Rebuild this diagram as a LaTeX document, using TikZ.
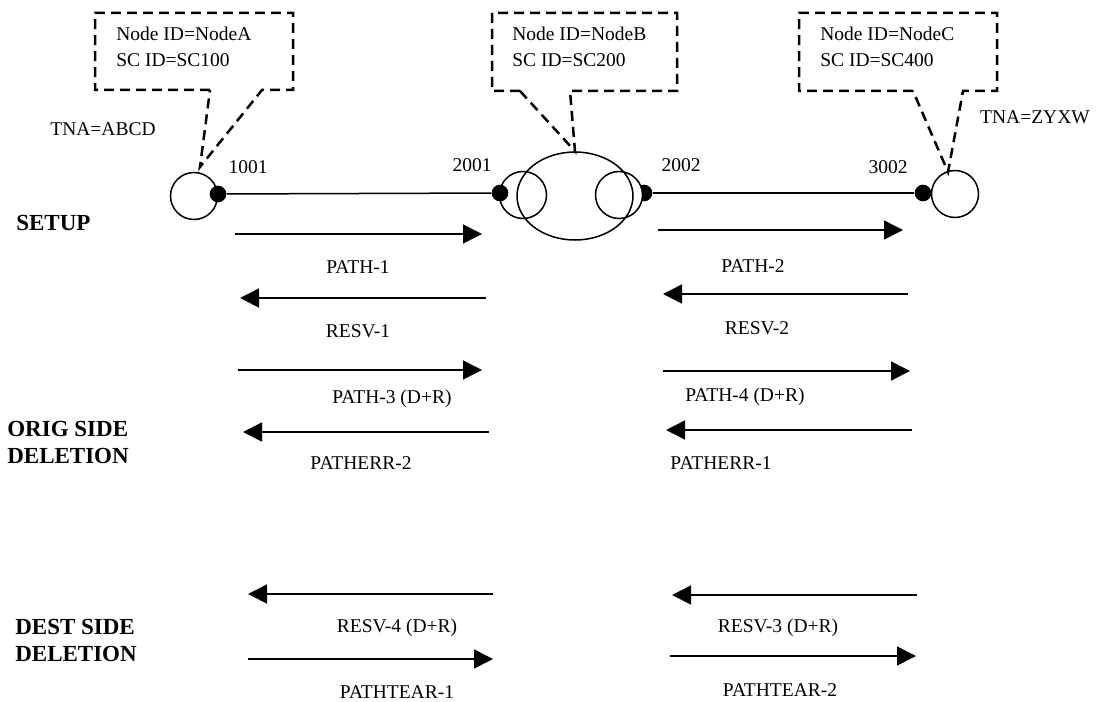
\documentclass[tikz,border=0pt]{standalone}
\usepackage{fontspec}
\setmainfont{Liberation Serif}
\usetikzlibrary{arrows.meta,shapes.geometric}
\tikzset{callout/.style={line width=1.5pt,dash pattern=on 6pt off 3.6pt},
 port/.style={circle,fill,inner sep=0pt,minimum size=10pt},
 ring/.style={circle,draw,line width=0.9pt,inner sep=0pt,minimum size=28.2pt},
 msg/.style={-{Triangle[length=11.4pt,width=11.4pt]},line width=0.9pt},
 every node/.style={font=\fontsize{11.7}{15.6}\selectfont},
 phase/.style={anchor=west,align=left,inner sep=0pt,font=\fontsize{13.8}{16.2}\selectfont\bfseries}}

\begin{document}
\begin{tikzpicture}[x=0.6pt,y=-0.6pt]
\useasboundingbox (0,0) rectangle (1096,702);
% end nodes A and C
\node[ring] (ringA) at (194,196) {};
\node[port] (portA) at (218,194) {};
\node[ring] (ringC) at (955,194) {};
\node[port] (portC) at (923,193) {};
% node B: two rings inside the ellipse
\node[port] (portB2) at (644,193) {};
\node[ring,fill=white] (ringB2) at (619,195) {};
\node[ring] (ringB1) at (523,195) {};
\node[draw,ellipse,line width=0.9pt,inner sep=0pt,minimum width=69.6pt,minimum height=52.8pt] (nodeB) at (575,196) {};
\node[port] (portB1) at (500,193) {};
\draw[line width=0.9pt] (portA) -- (portB1);
\draw[line width=0.9pt] (portB2) -- (portC);
\node (lblA) at (248,167) {1001};
\node (lblB1) at (472,165) {2001};
\node (lblB2) at (681,165) {2002};
\node (lblC) at (888,167) {3002};
\node (tnaA) at (103,129) {TNA=ABCD};
\node (tnaC) at (1035,117) {TNA=ZYXW};

% callouts
\coordinate (tipA) at (200,167);
\coordinate (tipC) at (948,172);
\draw[callout] (210,90) -- (95,90) -- (95,13) -- (293,13) -- (293,90) -- (262,90) -- (tipA) -- cycle;
\draw[callout] (520,91) -- (492,91) -- (492,13) -- (677,13) -- (677,91) -- (570,91) -- (nodeB.north) -- cycle;
\draw[callout] (913,91) -- (799,91) -- (799,13) -- (997,13) -- (997,91) -- (963,91) -- (tipC) -- cycle;
\node[anchor=west,align=left,inner sep=0pt] (idA) at (116,47) {Node ID=NodeA\\SC ID=SC100};
\node[anchor=west,align=left,inner sep=0pt] (idB) at (512,47) {Node ID=NodeB\\SC ID=SC200};
\node[anchor=west,align=left,inner sep=0pt] (idC) at (820,47) {Node ID=NodeC\\SC ID=SC400};

% phases
\node[phase] (setup) at (16,223) {SETUP};
\node[phase] (orig) at (7,442) {ORIG SIDE\\DELETION};
\node[phase] (dest) at (15,640) {DEST SIDE\\DELETION};

% setup messages
\coordinate (p1a) at (235,234); \coordinate (p1b) at (482,234);
\coordinate (r1a) at (486,298); \coordinate (r1b) at (240,298);
\coordinate (p2a) at (658,230); \coordinate (p2b) at (903,230);
\coordinate (r2a) at (908,294); \coordinate (r2b) at (663,294);
\draw[msg] (p1a) -- (p1b);
\draw[msg] (r1a) -- (r1b);
\draw[msg] (p2a) -- (p2b);
\draw[msg] (r2a) -- (r2b);
\node (path1) at (358,267) {PATH-1};
\node (resv1) at (358,331) {RESV-1};
\node (path2) at (753,266) {PATH-2};
\node (resv2) at (757,328) {RESV-2};

% originating side deletion
\coordinate (p3a) at (238,370); \coordinate (p3b) at (482,370);
\coordinate (e2a) at (489,432); \coordinate (e2b) at (243,432);
\coordinate (p4a) at (663,371); \coordinate (p4b) at (910,371);
\coordinate (e1a) at (912,430); \coordinate (e1b) at (666,430);
\draw[msg] (p3a) -- (p3b);
\draw[msg] (e2a) -- (e2b);
\draw[msg] (p4a) -- (p4b);
\draw[msg] (e1a) -- (e1b);
\node (path3) at (392,399) {PATH-3 (D+R)};
\node (perr2) at (361,463) {PATHERR-2};
\node (path4) at (745,397) {PATH-4 (D+R)};
\node (perr1) at (721,463) {PATHERR-1};

% destination side deletion
\coordinate (r4a) at (493,594); \coordinate (r4b) at (248,594);
\coordinate (t1a) at (248,659); \coordinate (t1b) at (493,659);
\coordinate (r3a) at (917,595); \coordinate (r3b) at (672,595);
\coordinate (t2a) at (670,656); \coordinate (t2b) at (916,656);
\draw[msg] (r4a) -- (r4b);
\draw[msg] (t1a) -- (t1b);
\draw[msg] (r3a) -- (r3b);
\draw[msg] (t2a) -- (t2b);
\node (resv4) at (397,628) {RESV-4 (D+R)};
\node (tear1) at (397,692) {PATHTEAR-1};
\node (resv3) at (778,628) {RESV-3 (D+R)};
\node (tear2) at (780,690) {PATHTEAR-2};
\end{tikzpicture}
\end{document}
